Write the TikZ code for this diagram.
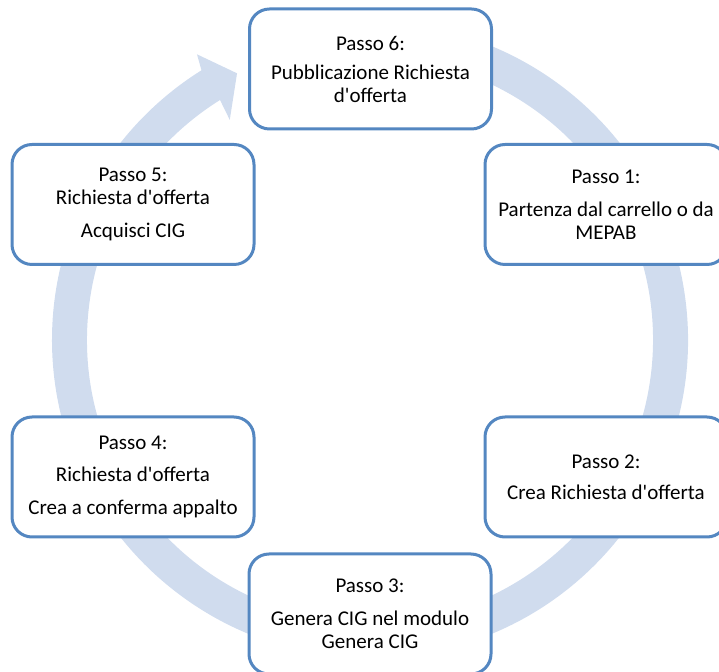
\documentclass[tikz,border=0pt]{standalone}
\usepackage{fontspec}
\setmainfont{Carlito}[Ligatures=TeXOff]
\definecolor{boxline}{RGB}{84,135,193}
\definecolor{ringfill}{RGB}{208,220,238}
\tikzset{
  stepbox/.style={draw=boxline, line width=3pt, fill=white, rounded corners=20pt,
    minimum width=242pt, minimum height=120pt, align=center,
    font=\fontsize{21}{23}\selectfont, inner sep=0pt},
}
\begin{document}
\begin{tikzpicture}[x=1pt,y=1pt]
\useasboundingbox (0,0) rectangle (719,671);
\clip (0,0) rectangle (719,671);
% circular arrow
\begin{scope}[shift={(370,331)}]
\fill[ringfill] (100:318) arc[start angle=100, end angle=-238, radius=318]
  -- (-238.8:334) -- (-243.5:298) -- (-237.5:261) -- (-238:283)
  arc[start angle=-238, end angle=100, radius=283] -- cycle;
\end{scope}
\node[stepbox] (s6) at (370.5,602) {Passo 6:\\[6pt]Pubblicazione Richiesta\\d'offerta};
\node[stepbox] (s1) at (606,466.5) {Passo 1:\\[10pt]Partenza dal carrello o da\\MEPAB};
\node[stepbox] (s2) at (606,194) {Passo 2:\\[8pt]Crea Richiesta d'offerta};
\node[stepbox] (s3) at (370,57) {Passo 3:\\[10pt]Genera CIG nel modulo\\Genera CIG};
\node[stepbox] (s4) at (133,194) {Passo 4:\\[9pt]Richiesta d'offerta\\[10pt]Crea a conferma appalto};
\node[stepbox] (s5) at (133,466.5) {Passo 5:\\Richiesta d'offerta\\[10pt]Acquisci CIG};
\end{tikzpicture}
\end{document}
